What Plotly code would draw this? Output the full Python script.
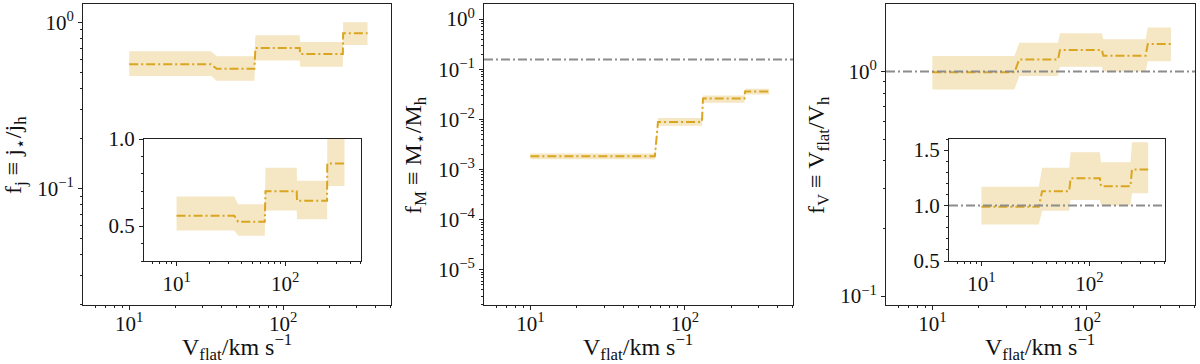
import plotly.graph_objects as go

# ---- data ----
# step curves: x = V_flat [km/s], value, lower / upper band
fj_x = [10, 34, 37, 65, 66, 128, 129, 244, 245, 353]
fj_y = [0.56, 0.56, 0.525, 0.525, 0.70, 0.70, 0.645, 0.645, 0.86, 0.86]
fj_lo = [0.475, 0.475, 0.445, 0.445, 0.59, 0.59, 0.54, 0.54, 0.73, 0.73]
fj_hi = [0.67, 0.67, 0.625, 0.625, 0.835, 0.835, 0.76, 0.76, 1.0, 1.0]

fM_x = [10, 64, 67, 129, 131, 243, 245, 352]
fM_y = [0.00185, 0.00185, 0.0089, 0.0089, 0.026, 0.026, 0.036, 0.036]
fM_lo = [0.0016, 0.0016, 0.0075, 0.0075, 0.0215, 0.0215, 0.0315, 0.0315]
fM_hi = [0.0021, 0.0021, 0.0107, 0.0107, 0.030, 0.030, 0.041, 0.041]

fV_x = [10, 34, 36.5, 65, 67, 125, 128, 240, 248, 350]
fV_y = [0.99, 0.99, 1.13, 1.13, 1.245, 1.245, 1.175, 1.175, 1.325, 1.325]
fV_lo = [0.83, 0.83, 0.953, 0.953, 1.05, 1.05, 1.0, 1.0, 1.11, 1.11]
fV_hi = [1.17, 1.17, 1.34, 1.34, 1.48, 1.48, 1.39, 1.39, 1.57, 1.57]

baryon_frac = 0.157   # grey reference line, middle panel
fv_ref = 1.0          # grey reference line, right panel

# decade tick labels
x_decades = [1, 2]
fj_decades = [-1, 0]
fM_decades = [-5, -4, -3, -2, -1, 0]
fV_decades = [-1, 0]

LINE = "#DAA520"
BAND = "rgba(218,165,32,0.27)"
GREY = "#8c8c8c"
FONT = "Liberation Serif"

fig = go.Figure()


def add_curve(x, y, lo, hi, xa, ya):
    fig.add_trace(go.Scatter(x=x, y=lo, mode="lines", line=dict(width=0),
                             xaxis=xa, yaxis=ya, showlegend=False, hoverinfo="skip"))
    fig.add_trace(go.Scatter(x=x, y=hi, mode="lines", line=dict(width=0),
                             fill="tonexty", fillcolor=BAND,
                             xaxis=xa, yaxis=ya, showlegend=False, hoverinfo="skip"))
    fig.add_trace(go.Scatter(x=x, y=y, mode="lines",
                             line=dict(color=LINE, width=2, dash="9px,3px,2px,3px"),
                             xaxis=xa, yaxis=ya, showlegend=False))


add_curve(fj_x, fj_y, fj_lo, fj_hi, "x", "y")
add_curve(fM_x, fM_y, fM_lo, fM_hi, "x2", "y2")
add_curve(fV_x, fV_y, fV_lo, fV_hi, "x3", "y3")
add_curve(fj_x, fj_y, fj_lo, fj_hi, "x4", "y4")
add_curve(fV_x, fV_y, fV_lo, fV_hi, "x5", "y5")

# grey horizontal reference lines across the full width of the axes
for xr, yr, val in [("x2 domain", "y2", baryon_frac), ("x3 domain", "y3", fv_ref),
                    ("x5 domain", "y5", fv_ref)]:
    fig.add_shape(type="line", xref=xr, yref=yr, x0=0, x1=1, y0=val, y1=val,
                  line=dict(color=GREY, width=2, dash="9px,3px,2px,3px"))

H = 364.0
W = 1200.0


def frame(**kw):
    d = dict(showline=True, mirror=True, linecolor="#222", linewidth=1,
             ticks="outside", ticklen=4, tickcolor="#222", showgrid=False,
             zeroline=False, automargin=False,
             tickfont=dict(family=FONT, size=21, color="#111"))
    d.update(kw)
    return d


def log_ticks(decades, lo, hi):
    vals = [10.0 ** d for d in decades]
    text = ["10<sup>%s</sup>" % (str(d).replace("-", "−")) for d in decades]
    minor = [m * 10.0 ** d for d in range(lo, hi) for m in range(2, 10)]
    return dict(type="log", tickmode="array", tickvals=vals, ticktext=text,
                minor=dict(ticks="outside", ticklen=2, tickcolor="#222",
                           tickmode="array", tickvals=minor))


logx = dict(range=[0.7, 2.7], **log_ticks(x_decades, 0, 3))
main_x = dict(ticklabelstandoff=-4, **logx)

ytop, ybot = 1 - 4 / H, 1 - 305 / H
layout = dict(
    template="none",
    width=1200, height=364, margin=dict(l=0, r=0, t=0, b=0),
    paper_bgcolor="white", plot_bgcolor="rgba(0,0,0,0)",
    xaxis=frame(domain=[83 / W, 391 / W], anchor="y", **main_x),
    yaxis=frame(domain=[ybot, ytop], anchor="x", range=[-1.70, 0.11],
                **log_ticks(fj_decades, -2, 1)),
    xaxis2=frame(domain=[484 / W, 793 / W], anchor="y2", **main_x),
    yaxis2=frame(domain=[ybot, ytop], anchor="x2", range=[-5.7, 0.3],
                 **log_ticks(fM_decades, -6, 1)),
    xaxis3=frame(domain=[886 / W, 1195 / W], anchor="y3", **main_x),
    yaxis3=frame(domain=[ybot, ytop], anchor="x3", range=[-1.04, 0.30],
                 **log_ticks(fV_decades, -2, 1)),
    # insets
    xaxis4=frame(domain=[144 / W, 361 / W], anchor="y4", **logx),
    yaxis4=frame(domain=[1 - 261 / H, 1 - 139 / H], anchor="x4", range=[0.3, 1.0],
                 tick0=0, dtick=0.5, tickformat=".1f",
                 minor=dict(ticks="outside", ticklen=2, dtick=0.1, tickcolor="#222")),
    xaxis5=frame(domain=[949 / W, 1165 / W], anchor="y5", **logx),
    yaxis5=frame(domain=[1 - 261 / H, 1 - 139 / H], anchor="x5", range=[0.5, 1.6],
                 tick0=0, dtick=0.5, tickformat=".1f",
                 minor=dict(ticks="outside", ticklen=2, dtick=0.1, tickcolor="#222")),
)
fig.update_layout(**layout)

xlabel = "V<sub>flat</sub>/km s<sup>−1</sup>"
ylabels = [
    (15, "f<sub>j</sub> ≡ j<sub>⋆</sub>/j<sub>h</sub>"),
    (415, "f<sub>M</sub> ≡ M<sub>⋆</sub>/M<sub>h</sub>"),
    (818, "f<sub>V</sub> ≡ V<sub>flat</sub>/V<sub>h</sub>"),
]
for cx in [237, 638, 1040]:
    fig.add_annotation(x=cx / W, y=1 - 347 / H, xref="paper", yref="paper",
                       xanchor="center", yanchor="middle",
                       text=xlabel, showarrow=False,
                       font=dict(family=FONT, size=24, color="#111"))
for cx, txt in ylabels:
    fig.add_annotation(x=cx / W, y=1 - 155 / H, xref="paper", yref="paper",
                       xanchor="center", yanchor="middle",
                       text=txt, showarrow=False, textangle=-90,
                       font=dict(family=FONT, size=24, color="#111"))

# the page's default body margin would shift the figure; remove it
fig.write_html("out.html", config={"displayModeBar": False},
               post_script="document.body.style.margin='0';"
                           "document.body.style.overflow='hidden';")
